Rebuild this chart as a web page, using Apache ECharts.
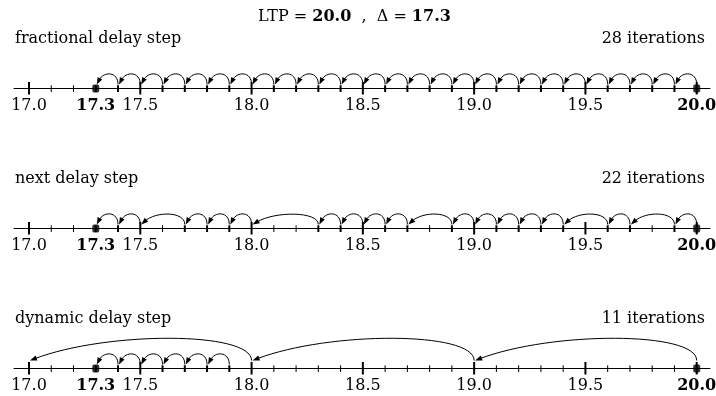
<!DOCTYPE html>
<html><head><meta charset="utf-8">
<script src="https://cdn.jsdelivr.net/npm/echarts@6/dist/echarts.min.js"></script>
<style>html,body{margin:0;padding:0;background:#fff}#c{width:716px;height:396px}</style>
</head><body><div id="c"></div>
<script>
// ---------------- data ----------------
const ltpValue = 20.0;
const deltaValue = 17.3;
const rowNames = ['fractional delay step', 'next delay step', 'dynamic delay step'];
const iterationCounts = [28, 22, 11];
const fractionalPath = [20.0, 19.9, 19.8, 19.7, 19.6, 19.5, 19.4, 19.3, 19.2, 19.1, 19.0, 18.9, 18.8, 18.7, 18.6, 18.5, 18.4, 18.3, 18.2, 18.1, 18.0, 17.9, 17.8, 17.7, 17.6, 17.5, 17.4, 17.3];
const nextPath = [20.0, 19.9, 19.7, 19.6, 19.4, 19.3, 19.2, 19.1, 19.0, 18.9, 18.7, 18.6, 18.5, 18.4, 18.3, 18.0, 17.9, 17.8, 17.7, 17.5, 17.4, 17.3];
const dynamicPath = [20.0, 19.0, 18.0, 17.0, 17.9, 17.8, 17.7, 17.6, 17.5, 17.4, 17.3];
const majorTicks = [17.0, 17.5, 18.0, 18.5, 19.0, 19.5, 20.0];
const minorTicks = [17.1, 17.2, 17.3, 17.4, 17.6, 17.7, 17.8, 17.9, 18.1, 18.2, 18.3, 18.4, 18.6, 18.7, 18.8, 18.9, 19.1, 19.2, 19.3, 19.4, 19.6, 19.7, 19.8, 19.9];
const tickLabels = [17.0, 17.3, 17.5, 18.0, 18.5, 19.0, 19.5, 20.0];

// ---------------- layout / style ----------------
const paths = [fractionalPath, nextPath, dynamicPath];
const AXIS_MIN = 16.9326, AXIS_MAX = 20.0597;
const axisRows = [88.5, 228.5, 368.5];
const FONT = 'DejaVu Serif';
const FS = 16;
const INK = '#000';
const near = (a, b) => Math.abs(a - b) < 1e-6;

function renderTick(params, api) {
  const v = api.value(0), major = api.value(1), visited = api.value(2);
  const p = api.coord([v, 0]);
  const up = major ? 6.5 : 3.2, down = major ? 6 : 3.5;
  return {
    type: 'line',
    shape: { x1: p[0], y1: p[1] - up, x2: p[0], y2: p[1] + down },
    style: { stroke: INK, lineWidth: (major || visited) ? 2 : 1 }
  };
}

function renderArc(params, api) {
  const from = api.value(0), to = api.value(1);
  const s = api.coord([from, 0]), e = api.coord([to, 0]);
  const w = s[0] - e[0];
  const big = (from - to) > 0.5;
  const lift = big ? 8 : 4;
  const peak = big ? 30 : 14;
  const h = (8 * peak - 2 * lift) / 6;
  const sx = s[0], sy = s[1] - lift;
  const ex = e[0] + 1, ey = e[1] - lift;
  const c1x = sx, c1y = s[1] - h;
  const c2x = e[0] + w * 0.35, c2y = e[1] - h;
  let dx = ex - c2x, dy = ey - c2y;
  const len = Math.sqrt(dx * dx + dy * dy);
  dx /= len; dy /= len;
  const L = 7, W = 2.6;
  const bx = ex - dx * L, by = ey - dy * L;
  return {
    type: 'group',
    children: [
      { type: 'bezierCurve',
        shape: { x1: sx, y1: sy, cpx1: c1x, cpy1: c1y, cpx2: c2x, cpy2: c2y, x2: bx + dx * 2, y2: by + dy * 2 },
        style: { stroke: INK, fill: null, lineWidth: 1 } },
      { type: 'polygon',
        shape: { points: [[ex, ey], [bx - dy * W, by + dx * W], [bx + dy * W, by - dx * W]] },
        style: { fill: INK } }
    ]
  };
}

const grids = [], xAxes = [], yAxes = [], series = [], titles = [];

titles.push({
  text: 'LTP = {b|' + ltpValue.toFixed(1) + '}  ,  Δ = {b|' + deltaValue.toFixed(1) + '}',
  left: 258, top: 9, padding: 0,
  textStyle: { fontFamily: FONT, fontSize: FS, fontWeight: 'normal', color: INK,
    rich: { b: { fontFamily: FONT, fontSize: FS, fontWeight: 'bold', color: INK } } }
});

paths.forEach((path, r) => {
  const y = axisRows[r];
  grids.push({ left: 14, right: 6, top: y - 40, height: 40, outerBoundsMode: 'none', containLabel: false });
  xAxes.push({
    gridIndex: r, type: 'value', min: AXIS_MIN, max: AXIS_MAX,
    axisLine: { show: true, onZero: false, lineStyle: { color: INK, width: 1 } },
    axisTick: { show: false }, splitLine: { show: false }, minorTick: { show: false },
    axisLabel: {
      customValues: tickLabels, margin: 9, hideOverlap: false,
      fontFamily: FONT, fontSize: FS, color: INK,
      formatter: v => (near(v, ltpValue) || near(v, deltaValue)) ? '{b|' + v.toFixed(1) + '}' : v.toFixed(1),
      rich: { b: { fontFamily: FONT, fontSize: FS, fontWeight: 'bold', color: INK } }
    }
  });
  yAxes.push({ gridIndex: r, type: 'value', min: 0, max: 1, show: false });

  const tickData = majorTicks.map(v => [v, 1, path.some(p => near(p, v)) ? 1 : 0])
    .concat(minorTicks.map(v => [v, 0, path.some(p => near(p, v)) ? 1 : 0]));
  series.push({ type: 'custom', xAxisIndex: r, yAxisIndex: r, renderItem: renderTick, data: tickData, silent: true, z: 2 });

  const arcs = [];
  for (let i = 1; i < path.length; i++) {
    if (path[i] < path[i - 1]) arcs.push([path[i - 1], path[i]]);
  }
  series.push({ type: 'custom', xAxisIndex: r, yAxisIndex: r, renderItem: renderArc, data: arcs, silent: true, z: 3 });

  series.push({ type: 'scatter', xAxisIndex: r, yAxisIndex: r, symbol: 'roundRect', symbolSize: [7, 8],
    itemStyle: { color: INK }, data: [[deltaValue, 0], [ltpValue, 0]], silent: true, z: 4 });

  titles.push({ text: rowNames[r], left: 15, top: y - 58, padding: 0,
    textStyle: { fontFamily: FONT, fontSize: FS, fontWeight: 'normal', color: INK } });
  titles.push({ text: iterationCounts[r] + ' iterations', right: 11, top: y - 58, padding: 0,
    textStyle: { fontFamily: FONT, fontSize: FS, fontWeight: 'normal', color: INK } });
});

const chart = echarts.init(document.getElementById('c'), null, { renderer: 'canvas' });
chart.setOption({
  animation: false,
  backgroundColor: '#fff',
  title: titles,
  grid: grids,
  xAxis: xAxes,
  yAxis: yAxes,
  series: series
});
</script>
</body></html>
